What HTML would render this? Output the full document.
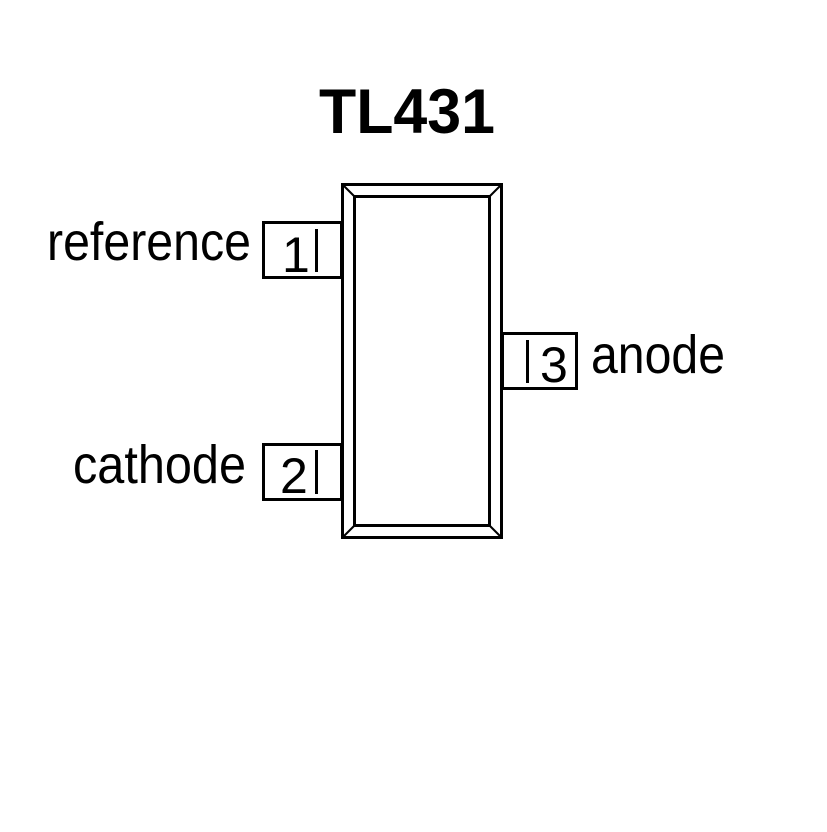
<!DOCTYPE html>
<html><head><style>html,body{margin:0;padding:0;background:#fff}</style></head>
<body>
<svg width="827" height="827" viewBox="0 0 827 827" xmlns="http://www.w3.org/2000/svg">
<rect width="827" height="827" fill="#fff"/>
<text x="407" y="133" text-anchor="middle" font-family="Liberation Sans, sans-serif" font-weight="bold" font-size="63" textLength="176" lengthAdjust="spacingAndGlyphs">TL431</text>
<g fill="#fff" stroke="#000" stroke-width="3">
<rect x="263.5" y="222.5" width="78" height="55"/>
<rect x="263.5" y="444.5" width="78" height="55"/>
<rect x="502.5" y="333.5" width="74" height="55"/>
<rect x="342.5" y="184.5" width="159" height="353"/>
<rect x="354.5" y="196.5" width="135" height="329"/>
</g>
<g stroke="#000" stroke-width="2">
<line x1="342" y1="184" x2="355" y2="197"/>
<line x1="502" y1="184" x2="489" y2="197"/>
<line x1="342" y1="538" x2="355" y2="525"/>
<line x1="502" y1="538" x2="489" y2="525"/>
</g>
<g stroke="#000" stroke-width="3">
<line x1="316.5" y1="229" x2="316.5" y2="272"/>
<line x1="316.5" y1="450" x2="316.5" y2="494"/>
<line x1="527.5" y1="340" x2="527.5" y2="383"/>
</g>
<g font-family="Liberation Sans, sans-serif" font-size="54" fill="#000">
<text x="47" y="260" textLength="204" lengthAdjust="spacingAndGlyphs">reference</text>
<text x="73" y="483" textLength="173" lengthAdjust="spacingAndGlyphs">cathode</text>
<text x="591" y="373" textLength="134" lengthAdjust="spacingAndGlyphs">anode</text>
<text x="282" y="272" font-size="50">1</text>
<text x="280" y="493" font-size="50">2</text>
<text x="540" y="382" font-size="50">3</text>
</g>
</svg>
</body></html>
